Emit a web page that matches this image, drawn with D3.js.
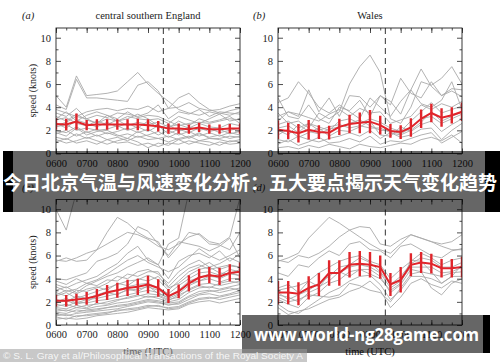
<!DOCTYPE html>
<html>
<head>
<meta charset="utf-8">
<script src="https://cdn.jsdelivr.net/npm/d3@7"></script>
<style>
body { margin: 0; background: #fff; }
svg { display: block; }
</style>
</head>
<body>
<svg id="chart" width="500" height="362"></svg>
<script>
// minutes after 0600, one value every 20 min
var times = [0, 20, 40, 60, 80, 100, 120, 140, 160, 180, 200, 220, 240, 260, 280, 300, 320, 340, 360];
var hourTicks = [0, 60, 120, 180, 240, 300, 360];
var xTickLabels = ['0600', '0700', '0800', '0900', '1000', '1100', '1200'];
var yTicks = [0, 2, 4, 6, 8, 10];
var yMinor = [1, 3, 5, 7, 9];
var splitTime = 210;   // 0930

// (a) central southern England
var meanA = [2.55, 2.5, 2.75, 2.45, 2.5, 2.5, 2.5, 2.5, 2.5, 2.45, 2.35, 2.15, 2.15, 2.1, 2.25, 2.1, 2.1, 2.15, 2.15];
var errA = [0.5, 0.5, 0.7, 0.45, 0.45, 0.45, 0.45, 0.45, 0.5, 0.5, 0.45, 0.45, 0.45, 0.4, 0.4, 0.4, 0.4, 0.4, 0.45];
var grayA = [
    [5.0, 4.0, 6.7, 5.0, 5.1, 5.2, 5.4, 6.2, 7.0, 6.0, 5.2, 4.5, 3.8, 3.5, 3.3, 3.6, 3.4, 3.7, 3.9],
    [4.2, 3.8, 6.4, 4.8, 4.8, 4.7, 4.6, 4.5, 5.9, 6.2, 5.4, 3.9, 4.8, 5.2, 4.4, 3.8, 3.5, 3.3, 3.6],
    [3.8, 3.5, 3.2, 3.6, 3.8, 3.9, 3.7, 3.9, 3.8, 4.1, 3.6, 3.9, 4.0, 4.4, 3.9, 3.7, 3.8, 4.1, 4.3],
    [3.5, 3.2, 3.9, 3.0, 3.3, 3.1, 3.5, 3.4, 3.2, 3.5, 4.2, 3.0, 3.6, 3.4, 3.8, 3.2, 3.6, 3.5, 3.4],
    [3.2, 2.8, 3.4, 2.9, 2.6, 3.0, 2.8, 3.2, 3.0, 2.9, 3.0, 2.6, 3.2, 2.9, 2.6, 3.0, 3.4, 2.8, 3.0],
    [2.9, 3.1, 2.6, 2.4, 2.8, 2.5, 2.9, 2.4, 2.7, 2.5, 2.7, 2.3, 2.5, 2.2, 2.6, 2.3, 2.2, 2.6, 2.4],
    [2.6, 2.2, 2.9, 2.6, 2.3, 2.7, 2.3, 2.6, 2.2, 2.8, 2.2, 2.5, 1.9, 2.3, 2.0, 2.2, 1.8, 2.0, 2.2],
    [2.3, 2.5, 2.0, 2.2, 2.0, 2.1, 2.4, 2.0, 2.3, 1.9, 2.4, 1.7, 2.1, 1.8, 2.2, 1.9, 2.1, 1.7, 1.9],
    [2.0, 1.8, 2.3, 1.8, 2.1, 1.7, 1.9, 2.2, 1.8, 2.1, 1.6, 2.0, 1.6, 1.9, 1.5, 1.8, 1.5, 1.8, 1.6],
    [1.7, 2.0, 1.5, 1.9, 1.5, 1.8, 1.5, 1.7, 1.4, 1.6, 1.9, 1.4, 1.8, 1.3, 1.7, 1.4, 1.6, 1.3, 1.5],
    [1.4, 1.2, 1.7, 1.3, 1.6, 1.2, 1.4, 1.1, 1.5, 1.2, 1.3, 1.0, 1.3, 1.5, 1.1, 1.3, 1.2, 1.0, 1.2],
    [1.0, 1.3, 0.9, 1.1, 0.8, 1.2, 0.9, 1.0, 0.7, 0.9, 0.6, 0.9, 0.8, 1.1, 0.9, 0.7, 1.0, 0.8, 0.9],
    [2.4, 2.7, 3.2, 3.0, 2.6, 3.3, 2.8, 3.0, 3.4, 3.0, 2.4, 2.2, 2.8, 2.4, 3.0, 2.7, 2.9, 3.2, 2.6],
    [3.0, 3.6, 2.8, 3.3, 3.6, 3.3, 3.0, 3.6, 3.1, 3.3, 3.2, 2.8, 2.4, 2.6, 2.7, 2.6, 2.8, 3.0, 2.9],
    [1.8, 1.5, 2.2, 1.6, 1.9, 2.0, 1.6, 1.3, 1.9, 1.5, 1.3, 1.5, 1.2, 1.4, 1.8, 1.3, 1.3, 1.5, 1.4],
    [1.2, 0.9, 1.1, 1.4, 1.1, 0.8, 1.1, 1.3, 1.0, 0.5, 0.9, 0.7, 1.2, 0.8, 1.1, 1.0, 0.7, 1.1, 1.0]
];

// (b) Wales
var meanB = [2.05, 1.95, 1.75, 2.05, 1.85, 1.8, 2.3, 2.55, 2.65, 2.75, 2.45, 1.95, 1.85, 2.25, 3.0, 3.5, 3.1, 3.3, 3.6];
var errB = [0.8, 0.7, 0.8, 0.85, 0.6, 0.6, 0.7, 0.8, 0.9, 1.0, 0.8, 0.6, 0.6, 0.8, 0.8, 0.8, 0.8, 0.7, 0.8];
var grayB = [
    [4.4, 4.8, 6.2, 5.2, 4.0, 3.5, 4.2, 3.6, 3.0, 4.8, 4.0, 3.2, 4.5, 5.5, 7.3, 5.8, 5.0, 5.6, 5.5],
    [3.5, 2.6, 2.8, 2.2, 3.5, 3.0, 3.6, 6.0, 7.5, 8.5, 7.0, 3.0, 2.6, 4.0, 6.2, 5.9, 6.5, 7.5, 6.0],
    [2.8, 3.6, 3.2, 5.5, 3.6, 4.8, 3.2, 5.0, 4.9, 4.0, 5.0, 4.2, 6.5, 5.2, 4.8, 6.2, 5.0, 5.4, 4.9],
    [3.2, 3.6, 3.4, 3.1, 2.8, 3.4, 3.8, 3.2, 3.9, 3.5, 3.6, 2.6, 2.9, 3.2, 4.2, 3.8, 4.3, 4.0, 4.5],
    [2.5, 2.8, 2.2, 2.6, 2.3, 2.0, 2.8, 3.0, 2.6, 3.0, 2.7, 2.2, 1.9, 2.8, 3.6, 4.4, 3.5, 3.8, 4.1],
    [2.0, 1.6, 2.5, 1.9, 1.7, 2.1, 2.3, 2.6, 2.9, 2.4, 2.0, 2.0, 1.7, 2.2, 3.0, 3.2, 2.6, 3.0, 3.4],
    [1.6, 2.1, 1.4, 1.8, 2.2, 1.5, 2.0, 1.9, 2.3, 2.8, 1.6, 1.5, 2.3, 1.9, 2.5, 2.8, 1.9, 2.5, 3.0],
    [1.2, 1.0, 1.5, 1.2, 1.0, 1.3, 1.5, 1.8, 1.5, 2.0, 1.3, 1.8, 1.4, 1.6, 2.1, 2.2, 1.2, 2.0, 2.6],
    [0.8, 1.2, 0.7, 1.0, 1.4, 0.9, 1.0, 1.3, 1.0, 1.5, 0.8, 1.1, 1.0, 1.3, 1.6, 1.8, 0.9, 1.4, 1.9],
    [0.5, 0.6, 0.4, 0.7, 0.5, 0.8, 0.6, 0.4, 0.8, 0.6, 0.5, 0.7, 0.9, 0.8, 1.2, 1.4, 1.1, 1.6, 0.9],
    [4.8, 3.2, 3.0, 4.2, 3.0, 2.6, 4.0, 3.7, 4.6, 3.2, 5.0, 4.5, 3.4, 5.5, 4.3, 4.0, 4.6, 6.2, 3.8],
    [2.2, 2.4, 1.8, 2.6, 2.0, 2.3, 2.5, 2.2, 2.4, 2.2, 2.2, 1.8, 1.6, 2.0, 2.7, 3.6, 2.8, 3.2, 3.6]
];

// (c)
var meanC = [2.1, 2.1, 2.2, 2.3, 2.5, 2.8, 3.0, 3.2, 3.3, 3.5, 3.2, 2.5, 2.9, 3.6, 4.1, 4.3, 4.2, 4.5, 4.6];
var errC = [0.5, 0.5, 0.5, 0.55, 0.6, 0.65, 0.65, 0.7, 0.7, 0.75, 0.75, 0.6, 0.6, 0.7, 0.75, 0.7, 0.75, 0.75, 0.8];
var grayC = [
    [10.0, 8.2, 11.5, 11.5, 11.5, 11.5, 11.5, 11.5, 11.5, 11.5, 11.5, 11.5, 11.5, 11.5, 11.5, 11.5, 11.5, 11.5, 11.5],
    [5.6, 5.5, 5.8, 6.2, 6.5, 7.0, 7.5, 8.0, 7.8, 7.4, 6.8, 6.5, 7.0, 7.6, 7.9, 7.2, 7.0, 7.6, 11.0],
    [5.5, 5.8, 5.5, 5.6, 6.5, 8.0, 9.3, 8.8, 8.0, 7.5, 7.2, 5.8, 6.8, 8.0, 7.8, 7.0, 6.9, 6.5, 8.0],
    [4.0, 3.9, 4.2, 4.5, 5.5, 5.8, 6.2, 7.0, 8.5, 8.1, 7.0, 6.0, 7.2, 7.0, 6.8, 6.4, 6.8, 7.5, 5.8],
    [3.5, 3.2, 3.6, 3.9, 4.2, 4.8, 5.3, 6.2, 6.8, 5.6, 5.2, 7.0, 7.5, 11.5, 11.5, 11.5, 11.5, 11.5, 11.5],
    [3.0, 3.3, 2.8, 3.4, 3.8, 4.2, 4.5, 5.0, 5.4, 5.8, 5.2, 4.0, 5.5, 6.0, 6.2, 5.8, 6.4, 5.5, 6.2],
    [2.8, 2.5, 3.0, 2.9, 3.2, 3.6, 4.2, 4.0, 4.6, 4.8, 4.4, 3.6, 4.6, 5.2, 5.6, 5.0, 5.3, 5.8, 5.4],
    [2.5, 2.8, 2.3, 2.6, 2.9, 3.2, 3.5, 3.8, 3.9, 4.3, 3.9, 3.0, 3.8, 4.6, 5.0, 5.4, 4.8, 5.1, 5.0],
    [2.2, 2.0, 2.5, 2.3, 2.6, 2.9, 3.0, 3.3, 3.5, 3.6, 3.2, 2.7, 3.4, 4.0, 4.5, 4.6, 4.3, 4.8, 4.6],
    [2.0, 2.3, 1.9, 2.2, 2.3, 2.5, 2.7, 3.0, 3.1, 3.3, 3.0, 2.5, 3.0, 3.8, 4.1, 4.4, 4.0, 4.4, 4.3],
    [1.8, 1.6, 2.0, 1.9, 2.1, 2.2, 2.4, 2.6, 2.8, 3.0, 2.8, 2.3, 2.7, 3.4, 3.8, 4.0, 3.7, 4.0, 4.0],
    [1.6, 1.8, 1.5, 1.7, 1.8, 2.0, 2.2, 2.3, 2.5, 2.7, 2.6, 2.2, 2.4, 3.1, 3.5, 3.6, 3.4, 3.6, 3.8],
    [1.4, 1.2, 1.5, 1.4, 1.6, 1.7, 1.9, 2.0, 2.2, 2.5, 2.3, 2.0, 2.2, 2.8, 3.2, 3.3, 3.1, 3.3, 3.5],
    [1.2, 1.3, 1.1, 1.3, 1.4, 1.5, 1.7, 1.8, 2.0, 2.2, 2.1, 1.9, 2.0, 2.5, 2.9, 3.0, 2.8, 3.0, 3.2],
    [1.0, 0.8, 1.0, 1.1, 1.2, 1.3, 1.4, 1.6, 1.8, 2.0, 1.9, 1.8, 1.8, 2.2, 2.6, 2.7, 2.5, 2.7, 3.0],
    [0.8, 0.9, 0.7, 0.9, 1.0, 1.1, 1.2, 1.4, 1.5, 1.7, 1.6, 1.5, 1.6, 2.0, 2.3, 2.4, 2.2, 2.4, 2.6],
    [0.5, 0.6, 0.5, 0.6, 0.8, 0.9, 1.0, 1.1, 1.3, 1.5, 1.4, 1.3, 1.4, 1.8, 2.0, 2.1, 1.9, 2.1, 2.3],
    [3.8, 3.5, 4.0, 3.6, 3.9, 4.4, 5.0, 5.6, 6.0, 5.4, 5.0, 4.6, 5.0, 5.8, 6.6, 6.0, 5.6, 6.0, 6.5],
    [2.6, 3.0, 2.7, 3.1, 3.3, 3.0, 3.6, 3.4, 4.0, 3.8, 4.2, 3.2, 3.6, 4.3, 4.8, 5.0, 4.5, 4.4, 4.8],
    [1.9, 2.1, 1.8, 2.0, 2.5, 2.8, 2.6, 3.1, 2.9, 3.4, 2.7, 2.4, 2.9, 3.6, 3.8, 4.2, 4.1, 4.6, 4.2],
    [3.3, 2.9, 3.1, 3.6, 3.4, 3.9, 3.8, 4.4, 4.2, 4.6, 4.6, 3.3, 4.2, 4.9, 5.2, 4.8, 5.0, 5.2, 5.0],
    [1.5, 1.4, 1.7, 1.5, 1.9, 1.8, 2.1, 2.4, 2.6, 2.4, 2.5, 2.1, 2.6, 3.0, 3.4, 3.2, 3.6, 3.8, 3.6],
    [1.1, 1.0, 1.3, 1.2, 1.3, 1.5, 1.6, 1.7, 1.9, 2.1, 2.0, 1.7, 1.9, 2.4, 2.7, 2.9, 3.0, 3.2, 3.0],
    [0.7, 0.5, 0.8, 0.8, 0.9, 1.0, 1.3, 1.3, 1.4, 1.6, 1.7, 1.4, 1.5, 1.9, 2.2, 2.3, 2.4, 2.6, 2.8]
];

// (d)
var meanD = [2.8, 2.8, 2.7, 3.2, 3.5, 4.5, 4.5, 5.2, 5.3, 5.2, 5.0, 3.5, 3.9, 5.2, 5.4, 5.3, 4.9, 4.9, 5.0];
var errD = [1.0, 1.0, 1.0, 1.0, 1.0, 1.1, 1.1, 1.1, 1.1, 1.1, 1.0, 1.0, 1.1, 1.0, 0.9, 0.85, 0.8, 0.8, 0.9];
var grayD = [
    [5.5, 5.8, 6.2, 7.5, 8.4, 9.3, 8.8, 8.2, 7.6, 7.0, 6.5, 6.2, 7.0, 7.8, 7.5, 7.2, 6.8, 6.5, 6.5],
    [5.6, 5.4, 6.0, 5.8, 6.2, 6.8, 7.6, 8.2, 8.5, 8.4, 7.0, 6.8, 7.4, 7.8, 7.5, 7.2, 7.0, 7.2, 7.8],
    [4.5, 4.2, 5.2, 5.0, 5.8, 6.4, 6.0, 7.0, 7.2, 6.5, 6.4, 5.8, 6.8, 7.0, 6.5, 6.0, 5.8, 6.4, 6.6],
    [3.2, 3.5, 2.8, 3.8, 4.5, 5.0, 5.5, 5.8, 6.0, 5.5, 5.2, 4.0, 4.8, 5.5, 6.2, 5.8, 5.2, 5.6, 5.8],
    [2.8, 2.2, 2.6, 3.0, 3.6, 4.2, 5.0, 5.2, 5.8, 5.4, 4.6, 3.5, 4.2, 5.3, 5.8, 5.6, 5.0, 5.0, 5.4],
    [2.6, 2.4, 2.0, 2.8, 3.2, 4.4, 4.5, 5.0, 5.2, 5.0, 4.5, 3.2, 3.8, 5.0, 5.0, 5.0, 4.5, 4.6, 5.0],
    [2.2, 1.8, 1.5, 2.4, 2.8, 3.6, 3.9, 4.6, 4.8, 4.8, 4.2, 2.8, 3.5, 4.8, 4.6, 4.4, 4.2, 4.5, 4.6],
    [1.8, 1.2, 1.0, 1.6, 2.2, 2.8, 3.2, 3.8, 4.2, 4.3, 3.5, 2.2, 3.0, 4.2, 4.2, 4.0, 3.6, 4.2, 4.2],
    [1.5, 0.9, 1.2, 1.4, 1.8, 2.2, 2.4, 2.9, 3.2, 3.8, 3.0, 1.5, 2.4, 3.6, 4.0, 3.5, 3.2, 3.8, 3.6],
    [2.4, 2.0, 2.2, 2.6, 2.5, 2.4, 2.6, 3.6, 3.4, 3.0, 2.8, 2.0, 3.2, 4.4, 4.6, 3.2, 2.6, 3.6, 4.0],
    [3.0, 3.2, 3.4, 3.8, 3.3, 3.8, 4.6, 4.2, 4.8, 4.4, 4.0, 3.0, 3.6, 5.6, 5.5, 4.6, 3.6, 4.2, 5.2]
];

var svg = d3.select('#chart');
var serif = "'Liberation Serif', 'DejaVu Serif', serif";
var pw = 184, ph = 125.5;

var panels = [
    {tag: 'a', title: 'central southern England', x0: 56, y0: 28, mean: meanA, err: errA, gray: grayA, ylab: true, xlab: false},
    {tag: 'b', title: 'Wales', x0: 278, y0: 28, mean: meanB, err: errB, gray: grayB, ylab: false, xlab: false},
    {tag: 'c', title: '', x0: 56, y0: 199.5, mean: meanC, err: errC, gray: grayC, ylab: true, xlab: true},
    {tag: 'd', title: '', x0: 278, y0: 199.5, mean: meanD, err: errD, gray: grayD, ylab: false, xlab: true}
];

panels.forEach(function(p, k) {
    var x = d3.scaleLinear().domain([0, 360]).range([0, pw]);
    var y = d3.scaleLinear().domain([0, 10.84]).range([ph, 0]);
    var g = svg.append('g').attr('transform', 'translate(' + p.x0 + ',' + p.y0 + ')');

    g.append('clipPath').attr('id', 'clip' + k)
        .append('rect').attr('width', pw).attr('height', ph);

    var line = d3.line()
        .x(function(d, i) { return x(times[i]); })
        .y(function(d) { return y(d); });

    var plot = g.append('g').attr('clip-path', 'url(#clip' + k + ')');

    // single stations
    plot.selectAll('.gray')
        .data(p.gray)
        .enter()
        .append('path')
        .attr('d', line)
        .attr('fill', 'none')
        .attr('stroke', '#a9a9a9')
        .attr('stroke-width', 0.9);

    // split at 0930
    plot.append('line')
        .attr('x1', x(splitTime)).attr('x2', x(splitTime))
        .attr('y1', 0).attr('y2', ph)
        .attr('stroke', '#333')
        .attr('stroke-width', 1)
        .attr('stroke-dasharray', '6 4');

    // mean with error bars
    plot.append('path')
        .attr('d', line(p.mean))
        .attr('fill', 'none')
        .attr('stroke', '#e0252b')
        .attr('stroke-width', 2);

    plot.selectAll('.errbar')
        .data(p.mean)
        .enter()
        .append('line')
        .attr('x1', function(d, i) { return x(times[i]); })
        .attr('x2', function(d, i) { return x(times[i]); })
        .attr('y1', function(d, i) { return y(d - p.err[i]); })
        .attr('y2', function(d, i) { return y(d + p.err[i]); })
        .attr('stroke', '#e0252b')
        .attr('stroke-width', 2.4);

    // axes, ticks pointing in on all four sides
    var axes = [
        g.append('g').attr('transform', 'translate(0,' + ph + ')')
            .call(d3.axisBottom(x).tickValues(hourTicks).tickSize(-5).tickPadding(6)
                .tickFormat(function(d, i) { return xTickLabels[i]; })),
        g.append('g').attr('transform', 'translate(0,' + ph + ')')
            .call(d3.axisBottom(x).tickValues(times).tickSize(-2.5).tickFormat('')),
        g.append('g').call(d3.axisTop(x).tickValues(hourTicks).tickSize(-5).tickFormat('')),
        g.append('g').call(d3.axisTop(x).tickValues(times).tickSize(-2.5).tickFormat('')),
        g.append('g').call(d3.axisLeft(y).tickValues(yTicks).tickSize(-5).tickPadding(5).tickFormat(d3.format('d'))),
        g.append('g').call(d3.axisLeft(y).tickValues(yMinor).tickSize(-2.5).tickFormat('')),
        g.append('g').attr('transform', 'translate(' + pw + ',0)')
            .call(d3.axisRight(y).tickValues(yTicks).tickSize(-5).tickFormat('')),
        g.append('g').attr('transform', 'translate(' + pw + ',0)')
            .call(d3.axisRight(y).tickValues(yMinor).tickSize(-2.5).tickFormat(''))
    ];
    axes.forEach(function(a) {
        a.select('.domain').remove();
        a.selectAll('line').attr('stroke', '#222').attr('stroke-width', 0.8);
        a.selectAll('text')
            .attr('font-family', serif)
            .attr('font-size', 10.5)
            .attr('fill', '#222');
    });

    g.append('rect')
        .attr('width', pw).attr('height', ph)
        .attr('fill', 'none')
        .attr('stroke', '#222')
        .attr('stroke-width', 0.9);

    // labels
    g.append('text')
        .attr('x', p.ylab ? -34 : -25).attr('y', -9)
        .attr('font-family', serif).attr('font-size', 10.5).attr('font-style', 'italic')
        .attr('fill', '#222')
        .text('(' + p.tag + ')');
    g.append('text')
        .attr('x', pw / 2).attr('y', -9)
        .attr('text-anchor', 'middle')
        .attr('font-family', serif).attr('font-size', 10.5)
        .attr('fill', '#222')
        .text(p.title);
    if (p.ylab) {
        g.append('text')
            .attr('transform', 'translate(-20,' + ph / 2 + ') rotate(-90)')
            .attr('text-anchor', 'middle')
            .attr('font-family', serif).attr('font-size', 10)
            .attr('fill', '#222')
            .text('speed (knots)');
    }
    if (p.xlab) {
        g.append('text')
            .attr('x', pw / 2).attr('y', ph + 30)
            .attr('text-anchor', 'middle')
            .attr('font-family', serif).attr('font-size', 10.5)
            .attr('fill', '#222')
            .text('time (UTC)');
    }
});

// headline banner over the figure
var banner = svg.append('g');
banner.append('rect')
    .attr('x', 3).attr('y', 151).attr('width', 497).attr('height', 61)
    .attr('fill', '#000').attr('fill-opacity', 0.6);
banner.append('rect')
    .attr('x', 3).attr('y', 151).attr('width', 10).attr('height', 61)
    .attr('fill', '#000');
banner.append('rect')
    .attr('x', 485).attr('y', 151).attr('width', 15).attr('height', 61)
    .attr('fill', '#000');
banner.append('text')
    .attr('x', 3).attr('y', 190)
    .attr('font-family', "'Noto Sans CJK SC', sans-serif")
    .attr('font-weight', 'bold')
    .attr('font-size', 19)
    .attr('fill', '#fff')
    .attr('textLength', 494)
    .attr('lengthAdjust', 'spacingAndGlyphs')
    .text('今日北京气温与风速变化分析：五大要点揭示天气变化趋势');

// site watermark
var mark = svg.append('g');
mark.append('rect')
    .attr('x', 242).attr('y', 315).attr('width', 241).attr('height', 38)
    .attr('fill', '#000').attr('fill-opacity', 0.6);
mark.append('rect')
    .attr('x', 483).attr('y', 315).attr('width', 7).attr('height', 38)
    .attr('fill', '#000');
mark.append('text')
    .attr('x', 254).attr('y', 341)
    .attr('font-family', "'Open Sans', 'Noto Sans', sans-serif")
    .attr('font-weight', 'bold')
    .attr('font-size', 18)
    .attr('fill', '#fff')
    .attr('textLength', 225)
    .attr('lengthAdjust', 'spacingAndGlyphs')
    .text('www.world-ng28game.com');

// credit line
svg.append('rect')
    .attr('x', 0).attr('y', 349).attr('width', 307).attr('height', 13)
    .attr('fill', '#9a9a9a').attr('fill-opacity', 0.55);
svg.append('text')
    .attr('x', 3).attr('y', 359)
    .attr('font-family', "'Liberation Sans', Arial, sans-serif")
    .attr('font-size', 9.5)
    .attr('fill', '#fff')
    .attr('fill-opacity', 0.85)
    .attr('textLength', 300)
    .attr('lengthAdjust', 'spacingAndGlyphs')
    .text('© S. L. Gray et al/Philosophical Transactions of the Royal Society A');
</script>
</body>
</html>
